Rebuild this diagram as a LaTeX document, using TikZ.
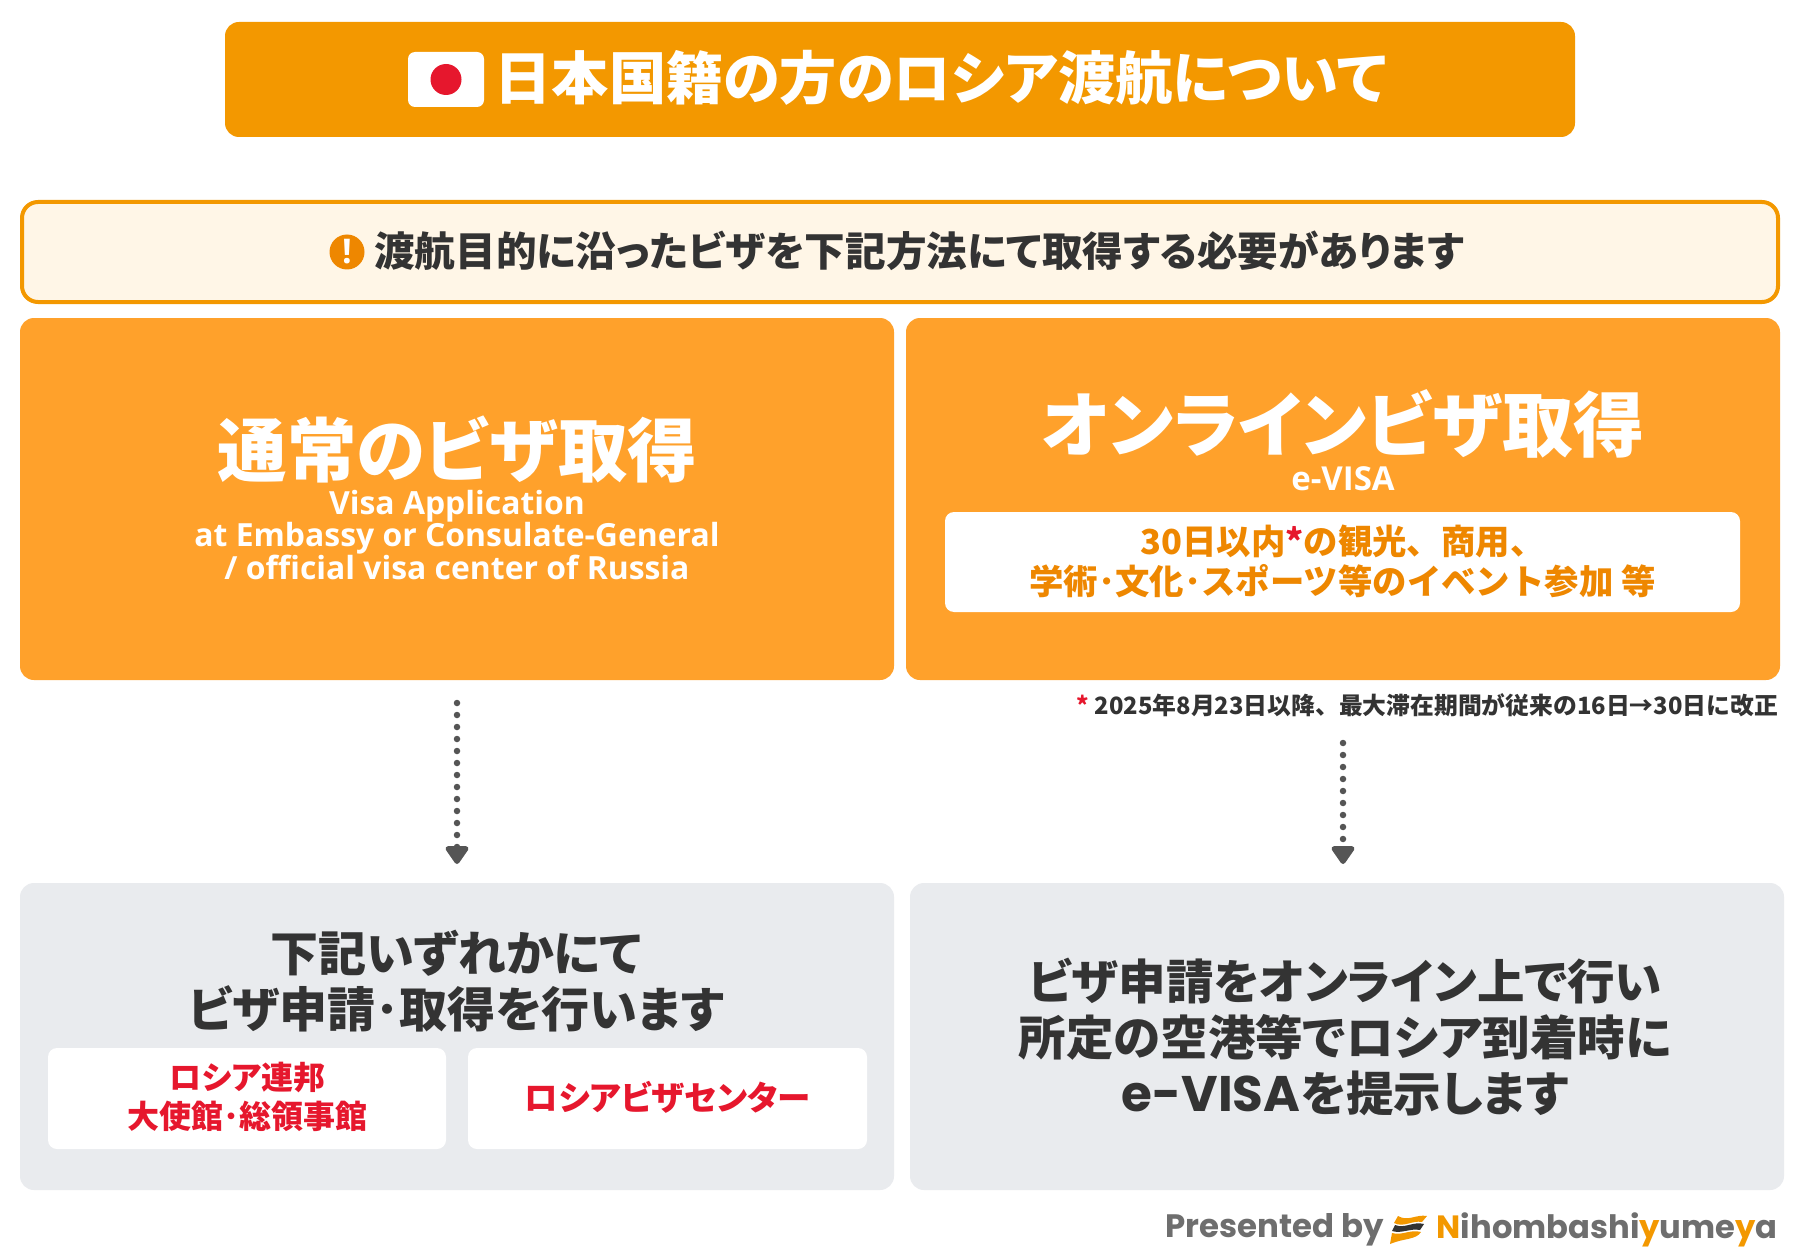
\documentclass[tikz,border=0pt]{standalone}
\usepackage{fontspec}
\usetikzlibrary{arrows.meta}
\setmainfont{Open Sans}
\newfontfamily\jp{Noto Sans CJK JP}[RawFeature=+palt]
\newfontfamily\jpfull{Noto Sans CJK JP}
\newfontfamily\pop{Poppins}
\definecolor{titleor}{HTML}{F39800}
\definecolor{boxor}{HTML}{FFA12B}
\definecolor{notebg}{HTML}{FFF6E7}
\definecolor{greybg}{HTML}{E9EBEE}
\definecolor{ink}{HTML}{333333}
\definecolor{redtx}{HTML}{E6172D}
\definecolor{ortx}{HTML}{EE8700}
\definecolor{arrowc}{HTML}{555555}
\definecolor{presg}{HTML}{6E6E6E}
\newcommand{\fz}[2]{\fontsize{#1pt}{#2pt}\selectfont}
\tikzset{
  panel/.style={rounded corners=14pt,inner sep=0pt,outer sep=0pt},
  whitebox/.style={panel,fill=white,rounded corners=9pt},
  jptext/.style={inner sep=0pt,align=center,font=\jp\bfseries},
  entext/.style={inner sep=0pt,align=center,font=\bfseries},
  flow/.style={draw=arrowc,line width=6.5pt,line cap=round,dash pattern=on 0pt off 12pt,
    -{Triangle[width=26pt,length=20pt,round]}},
}
\newcommand{\boxat}[7]{\node[#1,minimum width=#6 pt-#4 pt,minimum height=#7 pt-#5 pt,#2] (#3) at ({(#4+#6)/2},{(#5+#7)/2}) {};}
\begin{document}
\begin{tikzpicture}[x=1pt,y=-1pt]
\useasboundingbox (0,0) rectangle (1800,1260);
\fill[white] (0,0) rectangle (1800,1260);
% title
\boxat{panel}{fill=titleor}{title}{225}{22}{1575}{137}
\node[panel,fill=white,rounded corners=7pt,minimum width=76pt,minimum height=55pt] (flag) at (446,79.5) {};
\node[circle,fill=redtx,minimum size=31pt,inner sep=0pt] (sun) at (flag.center) {};
\node[jptext,white,anchor=west,font=\jp\bfseries\fz{57.2}{60}] (ttext) at (494.5,78) {日本国籍の方のロシア渡航について};
% notice
\boxat{panel}{fill=notebg,draw=titleor,line width=4pt,rounded corners=16pt}{notice}{22}{202}{1778}{302}
\node[circle,fill=ortx,minimum size=35pt,inner sep=0pt] (warn) at (347,252) {};
\node[entext,white,font=\bfseries\fz{34}{36}] (warnmark) at (warn.center) {!};
\node[jptext,ink,anchor=west,font=\jp\bfseries\fz{40.6}{44}] (ntext) at (374,251) {渡航目的に沿ったビザを下記方法にて取得する必要があります};
% orange panels
\boxat{panel}{fill=boxor}{regular}{20}{318}{894}{680}
\boxat{panel}{fill=boxor}{online}{906}{318}{1780}{680}
\node[jptext,white,font=\jp\bfseries\fz{69.5}{74}] (reghead) at (457.5,449) {通常のビザ取得};
\node[entext,white,font=\bfseries\fz{31.9}{32}] (regsub) at (457,535) {Visa Application\\at Embassy or Consulate-General\\/ official visa center of Russia};
\node[jptext,white,font=\jp\bfseries\fz{71}{76}] (onhead) at (1343,424) {オンラインビザ取得};
\node[entext,white,font=\bfseries\fz{33}{34}] (onsub) at (1343,479) {e-VISA};
\boxat{whitebox}{fill=white}{onbox}{945}{512}{1740}{612}
\node[jptext,ortx,font=\jpfull\bfseries\fz{34.4}{40}] (ontext) at ([yshift=1pt]onbox.center) {30日以内\textcolor{redtx}{*}の観光、商用、\\学術･文化･スポーツ等のイベント参加 等};
% footnote
\node[jptext,ink,anchor=east,font=\jpfull\bfseries\fz{23.8}{28}] (fnote) at (1778,705) {\textcolor{redtx}{*} 2025年8月23日以降、最大滞在期間が従来の16日→30日に改正};
% grey panels
\boxat{panel}{fill=greybg}{greyl}{20}{883}{894}{1190}
\boxat{panel}{fill=greybg}{greyr}{910}{883}{1784}{1190}
\node[jptext,ink,font=\jp\bfseries\fz{48}{56}] (gltext) at (456,981) {下記いずれかにて\\ビザ申請･取得を行います};
\boxat{whitebox}{}{embassy}{48}{1048}{446}{1149}
\boxat{whitebox}{}{center}{468}{1048}{867}{1149}
\node[jptext,redtx,font=\jp\bfseries\fz{32}{39}] (embtext) at ([yshift=1.5pt]embassy.center) {ロシア連邦\\大使館･総領事館};
\node[jptext,redtx,font=\jp\bfseries\fz{33.5}{39}] (centext) at ([yshift=1.5pt]center.center) {ロシアビザセンター};
\node[jptext,ink,font=\jp\bfseries\fz{47.5}{56}] (grtext) at (1345,1037) {ビザ申請をオンライン上で行い\\所定の空港等でロシア到着時に\\{\pop\fz{50}{56}e-VISA}を提示します};
% connectors
\coordinate (a1) at (457,703);
\coordinate (a2) at (457,864);
\coordinate (b1) at (1343,743);
\coordinate (b2) at (1343,864);
\draw[flow] (a1) -- (a2);
\draw[flow] (b1) -- (b2);
% credit
\node[inner sep=0pt,anchor=west,text=presg,font=\pop\bfseries\fz{32.4}{36}] (pres) at (1165,1230) {Presented by};
\node[inner sep=0pt,anchor=east,text=presg,font=\pop\bfseries\fz{32.2}{36}] (brand) at (1778,1230) {\textcolor{titleor}{N}ihombashi\textcolor{titleor}{y}ume\textcolor{titleor}{y}a};
\fill[titleor] (1398,1216) .. controls (1408,1222) and (1416,1214) .. (1427,1216) -- (1422,1222) .. controls (1412,1220) and (1404,1228) .. (1394,1223) -- cycle;
\fill[ink] (1395,1225) .. controls (1405,1229) and (1413,1221) .. (1424,1224) -- (1420,1230) .. controls (1410,1228) and (1402,1234) .. (1392,1231) -- cycle;
\fill[titleor] (1392,1233) .. controls (1402,1236) and (1410,1229) .. (1421,1232) .. controls (1416,1240) and (1404,1238) .. (1390,1244) -- cycle;
\end{tikzpicture}
\end{document}
